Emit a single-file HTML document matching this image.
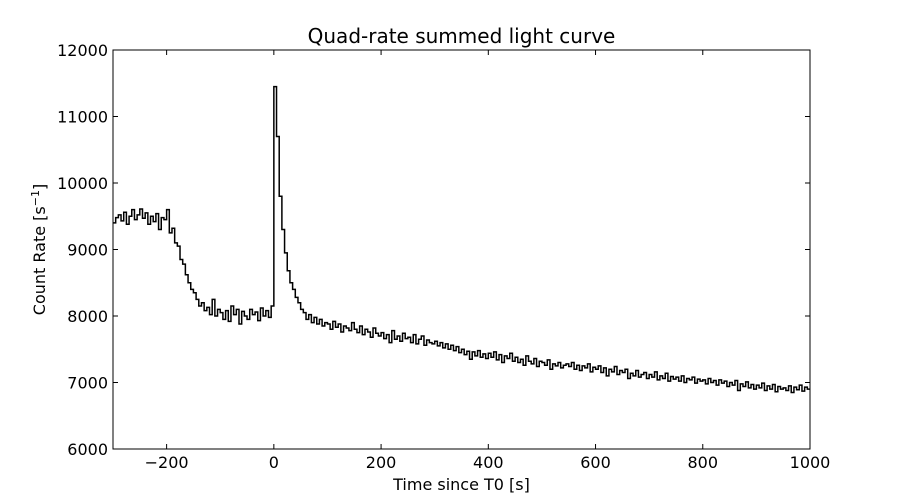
<!DOCTYPE html>
<html><head><meta charset="utf-8"><style>
body{margin:0;background:#fff;}
svg{display:block;font-family:"DejaVu Sans","Liberation Sans",sans-serif;}
</style></head><body>
<svg id="chart" width="900" height="500" viewBox="0 0 900 500"></svg>
<script>
const binStart = -300;
const binWidth = 5;
const countRates = [
9400,9480,9520,9430,9560,9380,9500,9600,9450,9520,
9610,9470,9550,9380,9500,9420,9540,9300,9480,9450,
9600,9250,9320,9100,9050,8850,8780,8620,8500,8400,
8350,8250,8150,8200,8080,8130,8020,8250,8000,8100,
8050,7950,8080,7920,8150,8020,8100,7880,8070,8000,
7950,8100,8020,8060,7930,8120,8000,8080,7980,8150,
11450,10700,9800,9300,8950,8680,8500,8400,8280,8200,
8100,8050,7950,8020,7900,7980,7880,7950,7850,7900,
7880,7800,7920,7830,7880,7760,7850,7820,7780,7900,
7800,7750,7850,7720,7800,7760,7680,7820,7740,7700,
7750,7660,7720,7600,7780,7650,7700,7620,7740,7660,
7680,7600,7720,7580,7650,7700,7560,7640,7600,7580,
7620,7550,7600,7520,7580,7500,7560,7480,7540,7450,
7500,7420,7470,7350,7460,7400,7480,7380,7430,7360,
7440,7380,7460,7340,7420,7300,7400,7360,7440,7320,
7380,7300,7350,7260,7400,7320,7280,7360,7240,7320,
7300,7260,7340,7200,7280,7250,7300,7220,7260,7280,
7240,7300,7200,7260,7180,7250,7220,7280,7160,7230,
7200,7250,7150,7220,7100,7200,7160,7240,7120,7180,
7150,7200,7060,7140,7100,7180,7080,7120,7150,7060,
7120,7080,7160,7040,7100,7060,7140,7020,7090,7050,
7080,7020,7100,7000,7060,7040,7080,6990,7050,7020,
7040,6980,7060,7000,7030,6960,7040,6990,7020,6940,
7000,6960,7030,6880,6980,6940,7010,6920,6970,6900,
6960,6920,6990,6880,6950,6900,6970,6860,6940,6900,
6920,6880,6950,6850,6930,6890,6960,6870,6930,6900
];
const xTicks = [-200,0,200,400,600,800,1000];
const yTicks = [6000,7000,8000,9000,10000,11000,12000];
const xDomain = [-300,1000];
const yDomain = [6000,12000];

const NS="http://www.w3.org/2000/svg";
const svg=document.getElementById('chart');
const L=113,R=810,T=50,B=449;
const xs=v=>L+(v-xDomain[0])/(xDomain[1]-xDomain[0])*(R-L);
const ys=v=>B-(v-yDomain[0])/(yDomain[1]-yDomain[0])*(B-T);
function mk(tag,attrs){const e=document.createElementNS(NS,tag);for(const k in attrs)e.setAttribute(k,attrs[k]);svg.appendChild(e);return e;}

let d='';
countRates.forEach((v,i)=>{
  const t0=binStart+i*binWidth, t1=t0+binWidth;
  const y=ys(v);
  d+=(i===0?'M':'L')+xs(t0).toFixed(2)+','+y.toFixed(2)+'L'+Math.min(xs(t1),R).toFixed(2)+','+y.toFixed(2);
});
const line=mk('path',{d:d,fill:'none',stroke:'#000','stroke-width':1.5,'stroke-linejoin':'miter'});



const frame=mk('rect',{x:L,y:T,width:R-L,height:B-T,fill:'none',stroke:'#000','stroke-width':1});



xTicks.forEach(t=>{
  const x=xs(t);
  mk('line',{x1:x,y1:B,x2:x,y2:B-5,stroke:'#000'});
  mk('line',{x1:x,y1:T,x2:x,y2:T+5,stroke:'#000'});
  const tx=mk('text',{x:x,y:B+19,'text-anchor':'middle','font-size':16});
  tx.textContent=(t<0?'\u2212'+(-t):t);
  
  
});
yTicks.forEach(t=>{
  const y=ys(t);
  mk('line',{x1:L,y1:y,x2:L+5,y2:y,stroke:'#000'});
  mk('line',{x1:R,y1:y,x2:R-5,y2:y,stroke:'#000'});
  const ty=mk('text',{x:L-5,y:y+6,'text-anchor':'end','font-size':16});
  ty.textContent=t;
  
  
});
const title=mk('text',{x:(L+R)/2,y:43,'text-anchor':'middle','font-size':20});
title.textContent='Quad-rate summed light curve';


const xl=mk('text',{x:(L+R)/2,y:490,'text-anchor':'middle','font-size':16});
xl.textContent='Time since T0 [s]';


const yl=mk('text',{x:45,y:(T+B)/2,'text-anchor':'middle','font-size':16,transform:'rotate(-90 45 '+((T+B)/2)+')'});
yl.innerHTML='Count Rate [s<tspan dy="-6" font-size="11">\u22121</tspan><tspan dy="6">]</tspan>';


</script>
</body></html>
